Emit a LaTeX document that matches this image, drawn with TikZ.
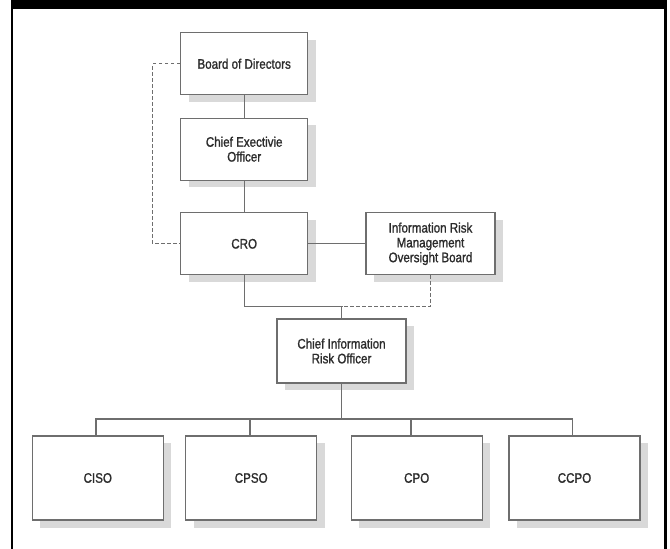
\documentclass[tikz,border=0pt]{standalone}
\usepackage{fontspec}
\setmainfont{Liberation Sans}[FakeStretch=0.84, FakeBold=1.2]
\usetikzlibrary{shadows}
\definecolor{boxline}{HTML}{6E6E6E}
\definecolor{shade}{HTML}{D9D9D9}
\definecolor{ink}{HTML}{2B2B2B}
\begin{document}
\begin{tikzpicture}[x=1pt,y=-1pt,
  orgbox/.style={draw=boxline, line width=1.2pt, fill=white, rectangle,
    align=center, inner sep=2pt, text=ink,
    font=\fontsize{13.8}{14.8}\selectfont,
    drop shadow={shadow xshift=8pt, shadow yshift=-7pt, fill=shade, opacity=1}},
  topbox/.style={orgbox, minimum width=127pt, minimum height=62pt},
  sidebox/.style={orgbox, minimum width=129pt, minimum height=62pt},
  leafbox/.style={orgbox, minimum width=131pt, minimum height=84pt,
    drop shadow={shadow xshift=8pt, shadow yshift=-8pt, fill=shade, opacity=1}},
  link/.style={draw=boxline, line width=1.2pt},
  dotlink/.style={link, dash pattern=on 3.5pt off 2.5pt}
]
\useasboundingbox (0,0) rectangle (670,549);
\fill[white] (0,0) rectangle (670,549);

% frame: heavy top bar with thin side rules
\fill[black] (11,0) rectangle (667,9.3);
\fill[black] (11,0) rectangle (13.3,549);
\fill[black] (664.3,0) rectangle (666.7,549);

% chain of command
\node[topbox]  (board) at (244.2,63.8)  {Board of Directors};
\node[topbox]  (ceo)   at (244.2,149.2) {Chief Exectivie\\Officer};
\node[topbox]  (cro)   at (244.2,243.8) {CRO};
\node[sidebox] (irm)   at (430.5,243.8) {Information Risk\\Management\\Oversight Board};
\node[sidebox, minimum height=64pt] (ciro) at (341.5,351) {Chief Information\\Risk Officer};

% reporting officers
\node[leafbox] (ciso) at (97.8,478)  {CISO};
\node[leafbox] (cpso) at (251.2,478) {CPSO};
\node[leafbox] (cpo)  at (416.7,478) {CPO};
\node[leafbox] (ccpo) at (574.5,478) {CCPO};

\coordinate (join) at (341.5,306.7);
\coordinate (bus)  at (341.5,419);

% solid reporting lines
\draw[link] (board.south) -- (ceo.north);
\draw[link] (ceo.south) -- (cro.north);
\draw[link] (cro.east) -- (irm.west);
\draw[link] (cro.south) |- (join) -- (ciro.north);
\draw[link] (ciro.south) -- (bus);
\draw[link] ([xshift=-1.8pt]ciso.north) |- (bus) -| ([xshift=-1.8pt]ccpo.north);
\draw[link] ([xshift=-1.2pt]cpso.north) -- ([xshift=-1.2pt]cpso.north |- bus);
\draw[link] ([xshift=-5.7pt]cpo.north) -- ([xshift=-5.7pt]cpo.north |- bus);

% dotted-line relationships
\draw[dotlink] (irm.south) |- (join);
\draw[dotlink] (board.west) -- ++(-27.5,0) |- (cro.west);
\end{tikzpicture}
\end{document}
